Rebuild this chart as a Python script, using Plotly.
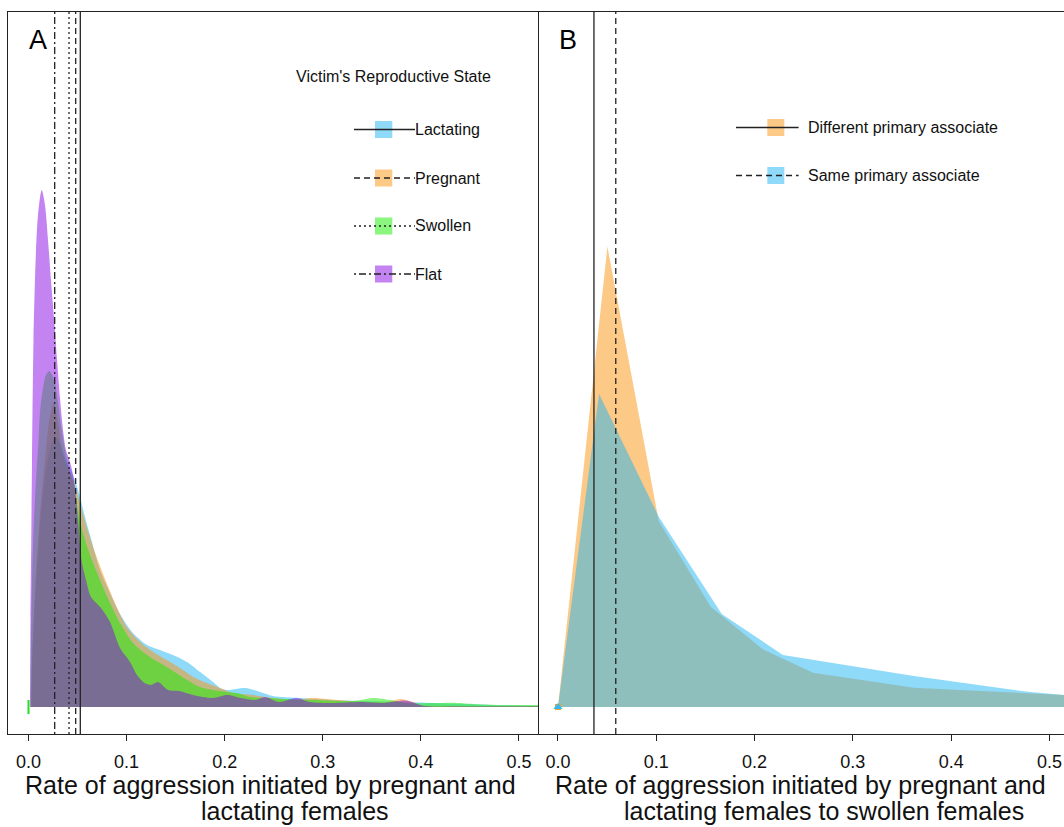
import plotly.graph_objects as go

# ---------------- data ----------------
# Panel A: density of aggression rate by victim's reproductive state
lact_x = [0.0031,0.0036,0.0056,0.0087,0.0127,0.0168,0.0219,0.0250,0.0280,0.0321,0.0352,0.0382,0.0423,0.0474,0.0525,0.0576,0.0627,0.0729,0.0831,0.0933,0.1065,0.1208,0.1340,0.1473,0.1616,0.1749,0.1881,0.1952,0.2023,0.2207,0.2360,0.2492,0.2768,0.3104,0.3787,0.4470,0.4735,0.5194]
lact_y = [0,1.88,3.60,5.60,7.80,9.20,10.36,10.68,10.80,10.56,10.20,9.88,9.56,9.08,8.40,7.60,6.88,5.48,4.56,3.72,2.96,2.48,2.28,2.08,1.80,1.40,1.00,0.76,0.68,0.76,0.60,0.44,0.36,0.28,0.20,0.12,0.08,0.05]

preg_x = [0.0025,0.0031,0.0046,0.0066,0.0097,0.0138,0.0178,0.0212,0.0255,0.0304,0.0338,0.0382,0.0423,0.0457,0.0525,0.0593,0.0695,0.0797,0.0899,0.1001,0.1137,0.1272,0.1409,0.1544,0.1680,0.1817,0.1952,0.2085,0.2288,0.2492,0.2696,0.2900,0.3043,0.3278,0.3654,0.3787,0.3920,0.3991,0.4195,0.5194]
preg_y = [0,1.08,2.68,4.68,6.68,8.68,10.28,11.48,12.16,11.36,10.28,9.68,9.40,9.08,8.16,7.20,6.00,4.96,4.00,3.20,2.60,2.20,1.88,1.56,1.20,0.96,0.76,0.56,0.48,0.36,0.28,0.36,0.32,0.24,0.20,0.32,0.20,0.08,0.05,0.04]

swol_x = [0.0020,0.0025,0.0036,0.0056,0.0082,0.0100,0.0117,0.0148,0.0178,0.0212,0.0240,0.0270,0.0301,0.0336,0.0372,0.0423,0.0464,0.0505,0.0556,0.0627,0.0729,0.0831,0.0933,0.1065,0.1208,0.1340,0.1473,0.1616,0.1749,0.1881,0.2023,0.2125,0.2258,0.2431,0.2635,0.2900,0.3308,0.3512,0.3685,0.3858,0.4123,0.4327,0.4531,0.4806,0.5194]
swol_y = [0,2.68,5.08,7.48,9.48,10.48,11.80,12.76,13.28,13.44,13.28,12.96,12.20,11.16,10.28,9.40,8.88,7.88,6.96,6.08,5.08,4.16,3.36,2.56,2.08,1.76,1.44,1.08,0.80,0.68,0.60,0.56,0.40,0.36,0.32,0.28,0.24,0.36,0.28,0.16,0.16,0.17,0.12,0.08,0.08]

flat_x = [0.0015,0.0020,0.0028,0.0036,0.0051,0.0071,0.0097,0.0135,0.0168,0.0199,0.0229,0.0260,0.0291,0.0321,0.0352,0.0382,0.0423,0.0464,0.0505,0.0540,0.0586,0.0637,0.0739,0.0831,0.0933,0.1035,0.1106,0.1183,0.1249,0.1320,0.1422,0.1534,0.1677,0.1881,0.2023,0.2166,0.2309,0.2411,0.2554,0.2727,0.2870,0.3084,0.3400,0.3604,0.3848,0.4032,0.4399,0.5194]
flat_y = [0,3.48,6.68,9.88,14.68,17.68,19.68,20.68,20.08,18.68,17.08,15.56,13.88,12.36,11.08,10.28,9.80,9.08,7.48,5.88,5.08,4.40,3.96,3.40,2.36,1.80,1.28,0.96,0.88,1.00,0.68,0.64,0.48,0.36,0.48,0.36,0.28,0.40,0.20,0.36,0.20,0.16,0.20,0.16,0.26,0.04,0.02,0.02]

# reference lines (panel A)
vline_a = {"Lactating": 0.0528, "Pregnant": 0.0481, "Swollen": 0.0413, "Flat": 0.0267}

# Panel B: density by primary associate
diff_x = [0.0, 0.0503, 0.1025, 0.1554, 0.2083, 0.2595, 0.3619, 0.5148]
diff_y = [0, 18.42, 7.44, 4.01, 2.31, 1.37, 0.77, 0.48]
same_x = [0.0, 0.0418, 0.1025, 0.1666, 0.2288, 0.3619, 0.4779, 0.5148]
same_y = [0, 12.52, 7.61, 3.72, 2.08, 1.24, 0.61, 0.48]
vline_b = {"Different primary associate": 0.0366, "Same primary associate": 0.0588}

tick_vals = [0.0, 0.1, 0.2, 0.3, 0.4, 0.5]
tick_text = ["0.0", "0.1", "0.2", "0.3", "0.4", "0.5"]

# ---------------- styles ----------------
FONT = "Liberation Sans, Arial, sans-serif"
C_BLUE = "rgba(31,181,243,0.5)"
C_ORANGE = "rgba(251,147,15,0.5)"
C_GREEN = "rgba(21,235,0,0.5)"
C_PURPLE = "rgba(135,9,229,0.5)"
DASH = {"solid": "solid", "dashed": "6px,4px", "dotted": "2px,3px", "dotdash": "2px,3px,7px,3px"}

series_a = [
    ("Lactating", lact_x, lact_y, C_BLUE, "solid"),
    ("Pregnant", preg_x, preg_y, C_ORANGE, "dashed"),
    ("Swollen", swol_x, swol_y, C_GREEN, "dotted"),
    ("Flat", flat_x, flat_y, C_PURPLE, "dotdash"),
]
series_b = [
    ("Different primary associate", diff_x, diff_y, C_ORANGE, "solid"),
    ("Same primary associate", same_x, same_y, C_BLUE, "dashed"),
]

fig = go.Figure()
for name, xs, ys, col, _ in series_a:
    fig.add_trace(go.Scatter(x=xs, y=ys, mode="lines", fill="tozeroy", fillcolor=col,
                             line=dict(width=0, color=col, shape="spline", smoothing=0.8),
                             name=name, showlegend=False, hoverinfo="skip", xaxis="x", yaxis="y"))
for name, xs, ys, col, _ in series_b:
    fig.add_trace(go.Scatter(x=xs, y=ys, mode="lines", fill="tozeroy", fillcolor=col,
                             line=dict(width=0, color=col),
                             name=name, showlegend=False, hoverinfo="skip", xaxis="x2", yaxis="y2"))

# small point marks at the origin
fig.add_trace(go.Scatter(x=[0], y=[0], mode="markers", xaxis="x", yaxis="y", showlegend=False,
                         marker=dict(symbol="line-ns-open", size=10, color="#22dd22",
                                     line=dict(color="#22dd22", width=2))))
fig.add_trace(go.Scatter(x=[0], y=[0], mode="markers", xaxis="x2", yaxis="y2", showlegend=False,
                         marker=dict(symbol="square", size=6, color="#f5a020")))
fig.add_trace(go.Scatter(x=[0], y=[0], mode="markers", xaxis="x2", yaxis="y2", showlegend=False,
                         marker=dict(symbol="triangle-up", size=8, color="#35b8f0")))

shapes = []
for name, _, _, _, lt in series_a:
    shapes.append(dict(type="line", xref="x", yref="y domain", x0=vline_a[name], x1=vline_a[name],
                       y0=0, y1=1, line=dict(color="#222", width=1.3, dash=DASH[lt])))
for name, _, _, _, lt in series_b:
    shapes.append(dict(type="line", xref="x2", yref="y2 domain", x0=vline_b[name], x1=vline_b[name],
                       y0=0, y1=1, line=dict(color="#222", width=1.3, dash=DASH[lt])))

# ---------------- custom legends (pixel layout -> paper coords) ----------------
W, H, ML, MT, MB = 1064, 827, 8, 12, 93
PW, PH = W - ML, H - MT - MB
def px(x):
    return (x - ML) / PW
def py(y):
    return (H - MB - y) / PH

annotations = []
annotations.append(dict(text="Victim's Reproductive State", x=px(393), y=py(76), xref="paper", yref="paper",
                        showarrow=False, font=dict(family=FONT, size=16, color="#111"), xanchor="center", yanchor="middle"))
rows_a = [129.5, 178, 226, 274]
for (name, _, _, col, lt), ry in zip(series_a, rows_a):
    shapes.append(dict(type="rect", xref="paper", yref="paper", x0=px(375), x1=px(392.3),
                       y0=py(ry + 8.5), y1=py(ry - 8.5), fillcolor=col, line=dict(width=0)))
    shapes.append(dict(type="line", xref="paper", yref="paper", x0=px(354), x1=px(415), y0=py(ry), y1=py(ry),
                       line=dict(color="#222", width=1.3, dash=DASH[lt])))
    annotations.append(dict(text=name, x=px(413), y=py(ry), xref="paper", yref="paper", showarrow=False,
                            xanchor="left", yanchor="middle", font=dict(family=FONT, size=16, color="#111")))
rows_b = [127.5, 175.5]
for (name, _, _, col, lt), ry in zip(series_b, rows_b):
    shapes.append(dict(type="rect", xref="paper", yref="paper", x0=px(767.3), x1=px(784.3),
                       y0=py(ry + 8.5), y1=py(ry - 8.5), fillcolor=col, line=dict(width=0)))
    shapes.append(dict(type="line", xref="paper", yref="paper", x0=px(736), x1=px(798.6), y0=py(ry), y1=py(ry),
                       line=dict(color="#222", width=1.3, dash=DASH[lt])))
    annotations.append(dict(text=name, x=px(806), y=py(ry), xref="paper", yref="paper", showarrow=False,
                            xanchor="left", yanchor="middle", font=dict(family=FONT, size=16, color="#111")))

# panel letters
for letter, lx in (("A", 38), ("B", 568)):
    annotations.append(dict(text=letter, x=px(lx), y=py(40), xref="paper", yref="paper", showarrow=False,
                            xanchor="center", yanchor="middle", font=dict(family=FONT, size=27, color="#000")))

# axis titles
titles = [("Rate of aggression initiated by pregnant and", 270, 785),
          ("lactating females", 295, 811),
          ("Rate of aggression initiated by pregnant and", 800, 785),
          ("lactating females to swollen females", 823.5, 811)]
for t, tx, ty in titles:
    annotations.append(dict(text=t, x=px(tx), y=py(ty), xref="paper", yref="paper", showarrow=False,
                            xanchor="center", yanchor="middle", font=dict(family=FONT, size=25, color="#111")))

axis_common = dict(showgrid=False, zeroline=False, showline=True, linecolor="#222", linewidth=1.3)
xcommon = dict(axis_common, ticks="outside", ticklen=6, tickwidth=1.2, tickcolor="#222",
               tickvals=tick_vals, ticktext=tick_text, ticklabelstandoff=5,
               tickfont=dict(family=FONT, size=18, color="#111"))

fig.update_layout(
    width=W, height=H, margin=dict(l=ML, r=0, t=MT, b=MB),
    paper_bgcolor="white", plot_bgcolor="white", showlegend=False,
    xaxis=dict(xcommon, domain=[0, px(538)], range=[-0.0209, 0.5194], mirror=True, anchor="y"),
    yaxis=dict(axis_common, range=[-1.08, 27.8], mirror=True, showticklabels=False, ticks="", anchor="x"),
    xaxis2=dict(xcommon, domain=[px(539), 1], range=[-0.0193, 0.5148], mirror=True, anchor="y2"),
    yaxis2=dict(axis_common, range=[-1.08, 27.8], mirror=False, showticklabels=False, ticks="", anchor="x2"),
    shapes=shapes, annotations=annotations,
)

fig.write_html("out.html")
